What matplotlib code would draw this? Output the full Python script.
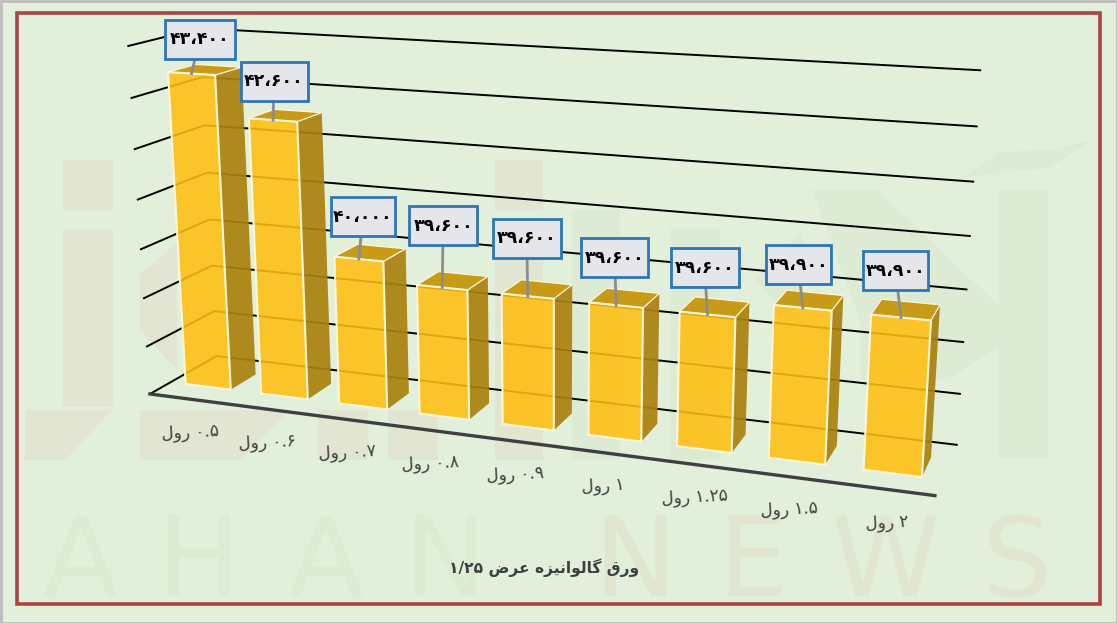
import matplotlib
matplotlib.use("Agg")
import matplotlib.pyplot as plt
import numpy as np
from matplotlib.patches import Polygon, Rectangle

# chart data
categories = ["۰.۵ رول", "۰.۶ رول", "۰.۷ رول", "۰.۸ رول", "۰.۹ رول",
              "۱ رول", "۱.۲۵ رول", "۱.۵ رول", "۲ رول"]
prices = [43400, 42600, 40000, 39600, 39600, 39600, 39600, 39900, 39900]
price_labels = ["۴۳،۴۰۰", "۴۲،۶۰۰", "۴۰،۰۰۰", "۳۹،۶۰۰", "۳۹،۶۰۰",
                "۳۹،۶۰۰", "۳۹،۶۰۰", "۳۹،۹۰۰", "۳۹،۹۰۰"]
grid_levels = [37000, 38000, 39000, 40000, 41000, 42000, 43000, 44000]
title = "ورق گالوانیزه عرض ۱/۲۵"

# label box centre, offset in pixels from the bar's front top edge
label_dx = [8, 1, 4, 1, -1, -1.5, -3, -4.5, -5.5]
label_dy = [-34.5, -39, -42.5, -61.5, -58, -47.5, -46.5, -43, -46.5]
label_w = [70, 67, 64, 68, 68, 67, 68, 65, 65]

# camera calibration: axis point -> pixel
left_front = [(128, 46), (131, 98), (135, 149), (138, 200),
              (141, 249), (144, 298), (147, 347), (150, 394)]
left_back = [(200, 28), (203, 77), (205, 126), (207, 173),
             (209, 219), (212, 265), (214, 311), (217, 356)]
right_back = [(980, 70), (977, 126), (973, 182), (970, 236),
              (966, 290), (963, 342), (960, 394), (957, 445)]
right_front_floor = (935, 495)

# faint logo behind the chart
wm_beige = [[(63, 160), (113, 160), (113, 210), (63, 210)],
            [(63, 229), (113, 229), (113, 407), (63, 407)],
            [(25, 410), (112, 410), (65, 460), (25, 460)],
            [(140, 275), (177, 243), (177, 370), (140, 330)],
            [(140, 410), (290, 410), (240, 460), (140, 460)],
            [(318, 410), (368, 410), (368, 460), (318, 460)],
            [(388, 410), (438, 410), (438, 460), (388, 460)],
            [(495, 160), (543, 160), (543, 210), (495, 210)],
            [(495, 229), (543, 229), (543, 460), (495, 460)]]
wm_green = [[(998, 190), (1048, 190), (1048, 458), (998, 458)],
            [(963, 178), (1000, 152), (1050, 150), (1093, 140), (1048, 168), (1000, 172)],
            [(812, 190), (877, 190), (998, 305), (998, 347), (947, 380), (860, 380), (860, 320)],
            [(755, 280), (803, 230), (803, 330)],
            [(572, 210), (620, 210), (620, 460), (572, 460)],
            [(670, 228), (720, 228), (720, 460), (670, 460)]]
wm_letters = ["A", "H", "A", "N", "N", "E", "W", "S"]
wm_x = [80, 198, 325, 445, 635, 752, 885, 1017]

BAR_W = 0.6
Z0, Z1 = 0.3, 0.69

FRONT = "#FFBE10"
SIDE = "#A98110"
TOP = "#C79A14"
EDGE = "#FFF6D5"
BG = "#E2EFDA"


def fit_camera():
    pts = []
    for k in range(len(grid_levels)):
        lv = grid_levels[::-1][k]
        pts.append((0, lv, 0, *left_front[k]))
        pts.append((0, lv, 1, *left_back[k]))
        pts.append((9, lv, 1, *right_back[k]))
    pts.append((9, 37000, 0, *right_front_floor))
    rows = []
    for x, y, z, u, v in pts:
        y = (y - 37000) / 1000
        rows.append([x, y, z, 1, 0, 0, 0, 0, -u*x, -u*y, -u*z, -u])
        rows.append([0, 0, 0, 0, x, y, z, 1, -v*x, -v*y, -v*z, -v])
    _, _, vt = np.linalg.svd(np.array(rows, dtype=float))
    return vt[-1].reshape(3, 4)


CAM = fit_camera()


def project(x, value, z):
    h = CAM @ np.array([x, (value - 37000) / 1000, z, 1.0])
    return h[0] / h[2], h[1] / h[2]


# matplotlib does no arabic shaping, so pick the contextual forms by hand
FORMS = {
    "ا": (0xFE8D, 0xFE8E), "ر": (0xFEAD, 0xFEAE), "ز": (0xFEAF, 0xFEB0),
    "و": (0xFEED, 0xFEEE),
    "ل": (0xFEDD, 0xFEDE, 0xFEDF, 0xFEE0), "گ": (0xFB92, 0xFB93, 0xFB94, 0xFB95),
    "ن": (0xFEE5, 0xFEE6, 0xFEE7, 0xFEE8), "ی": (0xFBFC, 0xFBFD, 0xFBFE, 0xFBFF),
    "ه": (0xFEE9, 0xFEEA, 0xFEEB, 0xFEEC), "ع": (0xFEC9, 0xFECA, 0xFECB, 0xFECC),
    "ض": (0xFEBD, 0xFEBE, 0xFEBF, 0xFEC0), "ق": (0xFED5, 0xFED6, 0xFED7, 0xFED8),
}


def shape_word(word):
    if word[0] not in FORMS:
        return word
    out = []
    for i, c in enumerate(word):
        forms = FORMS[c]
        joins_prev = i > 0 and len(FORMS[word[i - 1]]) == 4
        joins_next = i < len(word) - 1 and len(forms) == 4
        if joins_prev and joins_next:
            idx = 3
        elif joins_prev:
            idx = 1
        elif joins_next:
            idx = 2
        else:
            idx = 0
        out.append(chr(forms[idx]))
    return "".join(out[::-1])


def shape(text):
    return " ".join(shape_word(w) for w in text.split(" ")[::-1])


def draw_watermark(ax):
    for poly in wm_beige:
        ax.add_patch(Polygon(poly, closed=True, fc="#E1E5D2", ec="none", zorder=1))
    for poly in wm_green:
        ax.add_patch(Polygon(poly, closed=True, fc="#DDEAD4", ec="none", zorder=1))
    for k, letter in enumerate(wm_letters):
        color = "#DEEBD3" if k < 4 else "#E1E6D0"
        ax.text(wm_x[k], 596, letter, ha="center", va="baseline", fontsize=80,
                color=color, zorder=1)


def draw_bar(ax, i, value):
    x0, x1 = i + 0.5 - BAR_W / 2, i + 0.5 + BAR_W / 2
    base = grid_levels[0]
    side = [project(x1, base, Z0), project(x1, base, Z1),
            project(x1, value, Z1), project(x1, value, Z0)]
    top = [project(x0, value, Z0), project(x1, value, Z0),
           project(x1, value, Z1), project(x0, value, Z1)]
    front = [project(x0, base, Z0), project(x1, base, Z0),
             project(x1, value, Z0), project(x0, value, Z0)]
    ax.add_patch(Polygon(side, closed=True, fc=SIDE, ec="none", alpha=0.93, zorder=3))
    ax.add_patch(Polygon(top, closed=True, fc=TOP, ec="none", alpha=0.98, zorder=3))
    ax.add_patch(Polygon(front, closed=True, fc=FRONT, ec="none", alpha=0.88, zorder=3))
    ax.add_patch(Polygon(top, closed=True, fc="none", ec=EDGE, lw=0.9, zorder=4))
    ax.add_patch(Polygon(front, closed=True, fc="none", ec=EDGE, lw=1.5,
                         joinstyle="round", zorder=4))


def draw_label(ax, i, value):
    x0, x1 = i + 0.5 - BAR_W / 2, i + 0.5 + BAR_W / 2
    p0 = project(x0, value, Z0)
    p1 = project(x1, value, Z0)
    ax_x, ax_y = (p0[0] + p1[0]) / 2, (p0[1] + p1[1]) / 2
    cx, cy = ax_x + label_dx[i], ax_y + label_dy[i]
    w = label_w[i]
    ax.plot([ax_x, cx], [ax_y, cy], color="#8C8C8C", lw=2, zorder=5)
    ax.add_patch(Rectangle((cx - w / 2, cy - 19.5), w, 39, fc="#E4E6EC", ec="#2E75B6",
                           lw=2, zorder=6))
    ax.text(cx, cy, price_labels[i], ha="center", va="center", color="black",
            fontsize=12.5, fontweight="bold", zorder=7)


def main():
    fig = plt.figure(figsize=(11.17, 6.23), dpi=100, facecolor=BG)
    ax = fig.add_axes([0, 0, 1, 1])
    ax.set_xlim(0, 1117)
    ax.set_ylim(623, 0)
    ax.axis("off")

    draw_watermark(ax)

    # frames
    ax.add_patch(Rectangle((0.5, 0.5), 1116, 622, fc="none", ec="#BDBDBD", lw=2, zorder=1.6))
    ax.add_patch(Rectangle((17, 13), 1083, 591, fc="none", ec="#A94442", lw=2.6, zorder=8))

    # grid
    for level in grid_levels:
        pts = [project(0, level, 0), project(0, level, 1), project(9, level, 1)]
        ax.plot(*zip(*pts), color="black", lw=1.4, zorder=2)
    ax.plot(*zip(project(0, grid_levels[0], 0), project(9, grid_levels[0], 0)),
            color="#3F3F3F", lw=2.4, zorder=2)

    for i, value in enumerate(prices):
        draw_bar(ax, i, value)
    for i, value in enumerate(prices):
        draw_label(ax, i, value)

    # category labels under the floor
    for i, cat in enumerate(categories):
        tx, ty = project(i + 0.5, grid_levels[0], 0)
        ax.text(tx + 2, ty + 33.5, shape(cat), ha="center", va="center", rotation=3,
                rotation_mode="anchor", fontsize=12.2, color="#404040", zorder=5)

    ax.text(544, 568, shape(title), ha="center", va="center", fontsize=11.2,
            fontweight="bold", color="#404040", zorder=5)

    fig.savefig("out.png", dpi=100, facecolor=BG)
    plt.close(fig)


if __name__ == "__main__":
    main()
